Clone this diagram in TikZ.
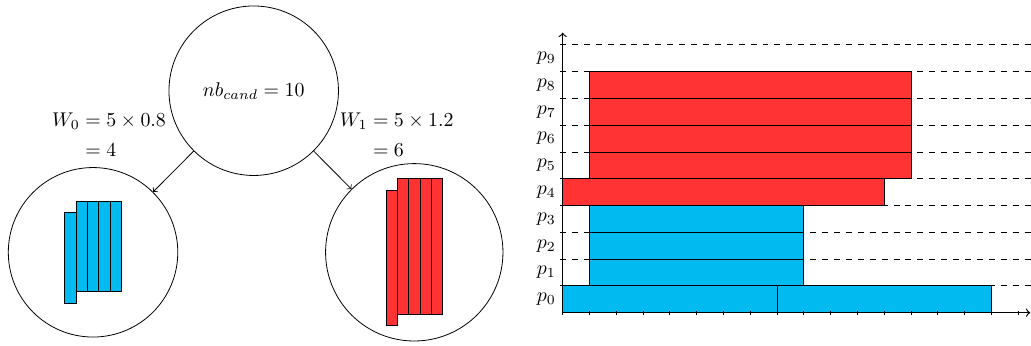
\documentclass[tikz,border=0pt]{standalone}
\usepackage{amsmath,amssymb}
\usepackage{tikz}
\usetikzlibrary{positioning,calc}
\usepackage{xcolor}
\definecolor{bluebar}{RGB}{0,186,240}
\definecolor{redbar}{RGB}{255,51,51}
\tikzset{
  wnode/.style={draw, circle, minimum size=3cm, inner sep=0pt},
  bluebox/.style={draw, fill=bluebar},
  redbox/.style={draw, fill=redbar}
}

\begin{document}
\begin{tikzpicture}
\useasboundingbox (-9.96,-0.572) rectangle (8.29,5.535);
% Candidates split
\node[wnode] (root) at (-5.469,3.929) {$nb_{cand}=10$};
\node[wnode] (w0) at (-8.313,1.069) {};
\node[wnode, minimum size=3.14cm] (w1) at (-2.627,1.069) {};
\draw[->] (root) -- (w0);
\draw[->] (root) -- (w1);
\node (lab0) at (-8.03,3.115) {$\begin{aligned}W_0&=5\times0.8\\&=4\end{aligned}$};
\node (lab1) at (-2.938,3.115) {$\begin{aligned}W_1&=5\times1.2\\&=6\end{aligned}$};
% Blocks in the circles
\draw[bluebox] ($(w0)+(-0.5,-0.9)$) rectangle +(0.2,1.6);
\foreach \i in {0,...,3}
  \draw[bluebox] ($(w0)+(-0.3+0.2*\i,-0.7)$) rectangle +(0.2,1.6);
\draw[redbox] ($(w1)+(-0.5,-1.3)$) rectangle +(0.2,2.4);
\foreach \i in {0,...,3}
  \draw[redbox] ($(w1)+(-0.3+0.2*\i,-1.1)$) rectangle +(0.2,2.4);
% Schedule
\begin{scope}[x=0.4743cm,y=0.4743cm]
\draw[bluebox] (0,0) rectangle (8,1);
\draw[bluebox] (8,0) rectangle (16,1);
\foreach \j in {1,2,3}
  \draw[bluebox] (1,\j) rectangle (9,\j+1);
\draw[redbox] (0,4) rectangle (12,5);
\foreach \j in {5,...,8}
  \draw[redbox] (1,\j) rectangle (13,\j+1);
% Levels
\foreach \j in {1,...,10}
  \draw[dashed] (-0.1,\j) -- (17.5,\j);
\foreach \j in {0,...,9}
  \node[left] (p\j) at (0,\j+0.5) {$p_{\j}$};
% Axes
\draw[semithick,->] (0,0) -- (17.45,0);
\draw[semithick,->] (0,0) -- (0,10.45);
\foreach \i in {0,...,17}
  \draw (\i,-0.08) -- (\i,0.08);
\end{scope}
\end{tikzpicture}
\end{document}
